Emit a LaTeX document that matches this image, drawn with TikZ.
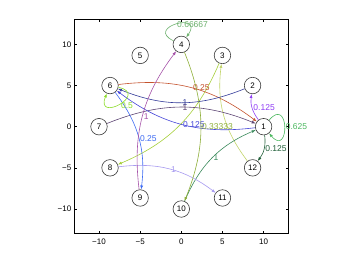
\documentclass[tikz,border=0pt]{standalone}
\usepackage{fontspec}
\setmainfont{Liberation Sans}
\definecolor{mNodeLine}{HTML}{3A3A3A}
\definecolor{mRust}{HTML}{C4532E}
\definecolor{mNavy}{HTML}{343C9A}
\definecolor{mPlum}{HTML}{5E4674}
\definecolor{mBlue}{HTML}{4646D8}
\definecolor{mViolet}{HTML}{8F3DF5}
\definecolor{mPine}{HTML}{22603A}
\definecolor{mTeal}{HTML}{3A8A5C}
\definecolor{mLavender}{HTML}{A79AF0}
\definecolor{mAzure}{HTML}{3E6BF2}
\definecolor{mMagenta}{HTML}{A552A8}
\definecolor{mLime}{HTML}{A6CF3A}
\definecolor{mOlive}{HTML}{8DAE38}
\definecolor{mPaleOlive}{HTML}{C2D46A}
\definecolor{mSage}{HTML}{6CB06C}
\definecolor{mGreen}{HTML}{4CB860}
\definecolor{mChartreuse}{HTML}{8EDD2C}
\usepackage{tikz}
\usetikzlibrary{arrows.meta}

\begin{document}
\begin{tikzpicture}[x=8.23pt, y=8.23pt, font=\fontsize{8.5}{10}\selectfont,
  vertex/.style={draw=mNodeLine, line width=0.6pt, fill=white, circle, minimum size=16.5pt, inner sep=0pt, font=\fontsize{8}{9}\selectfont},
  link/.style={-{Latex[length=4pt,width=3pt]}, line width=0.6pt},
  arc/.style={link, bend left=22},
  weight/.style={anchor=west, inner sep=1pt},
  ticklabel/.style={inner sep=0pt, font=\fontsize{8}{9}\selectfont}]
\useasboundingbox (-181.3pt,-137.3pt) rectangle (168.7pt,126.7pt);
% axes box and ticks
\draw[line width=0.5pt] (-13,-13) rectangle (13,13);
\foreach \t/\s in {-10/−10, -5/−5, 0/0, 5/5, 10/10} {
  \draw[line width=0.5pt] (\t,-13) -- ++(0,2.2pt) (\t,13) -- ++(0,-2.2pt) (-13,\t) -- ++(2.2pt,0) (13,\t) -- ++(-2.2pt,0);
  \node[ticklabel] at (\t,-14) {\s};
  \node[ticklabel, anchor=east] at (-13.35,\t) {\s};
}
% vertices
\node[vertex] (n1) at (0:10) {1};
\node[vertex] (n2) at (30:10) {2};
\node[vertex] (n3) at (60:10) {3};
\node[vertex] (n4) at (90:10) {4};
\node[vertex] (n5) at (120:10) {5};
\node[vertex] (n6) at (150:10) {6};
\node[vertex] (n7) at (180:10) {7};
\node[vertex] (n8) at (210:10) {8};
\node[vertex] (n9) at (240:10) {9};
\node[vertex] (n10) at (270:10) {10};
\node[vertex] (n11) at (300:10) {11};
\node[vertex] (n12) at (330:10) {12};
% weighted links
\draw[arc, mLime] (n3) to (n8);
\draw[arc, mPaleOlive] (n12) to (n3);
\draw[arc, mRust] (n6) to node[weight]{0.25} (n1);
\draw[arc, mNavy] (n2) to node[weight]{1} (n6);
\draw[arc, mPlum] (n7) to node[weight]{1} (n1);
\draw[arc, mBlue] (n1) to node[weight]{0.125} (n6);
\draw[arc, mViolet] (n1) to node[weight]{0.125} (n2);
\draw[arc, mPine] (n1) to node[weight]{0.125} (n12);
\draw[arc, mTeal] (n10) to node[weight]{1} (n1);
\draw[arc, mLavender] (n8) to node[weight]{1} (n11);
\draw[arc, mAzure] (n6) to node[weight]{0.25} (n9);
\draw[arc, mMagenta] (n9) to node[weight]{1} (n4);
\draw[arc, mOlive] (n4) to node[weight]{0.33333} (n10);
% self loops
\draw[link, mSage] (n4) to[out=155, in=55, distance=32pt] node[weight]{0.66667} (n4);
\draw[link, mGreen] (n1) to[out=50, in=-50, distance=32pt] node[weight]{0.625} (n1);
\draw[link, mChartreuse] (n6) to[out=-12, in=-112, distance=32pt] node[weight, yshift=-2pt]{0.5} (n6);
\end{tikzpicture}
\end{document}
